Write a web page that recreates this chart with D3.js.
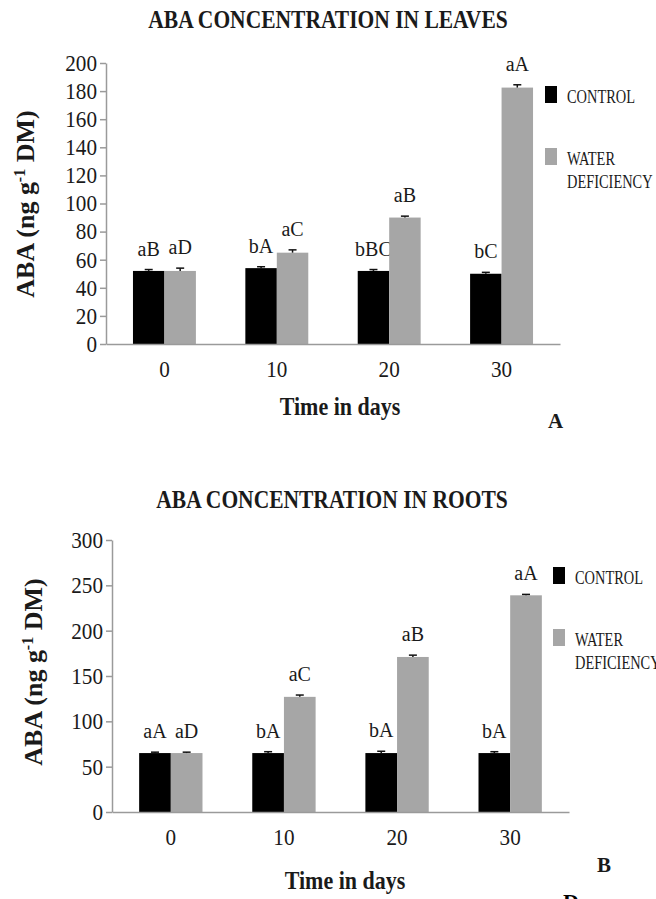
<!DOCTYPE html>
<html>
<head>
<meta charset="utf-8">
<script src="https://cdn.jsdelivr.net/npm/d3@7"></script>
<style>
	body { margin: 0; background: #fff; }
	svg { display: block; }
</style>
</head>
<body>
<div id="svg-container"></div>
<script>
var days = ["0", "10", "20", "30"];
var seriesNames = ["CONTROL", "WATER DEFICIENCY"];

var leafControl = [52, 54, 52, 50];
var leafControlErr = [1, 1, 1, 1];
var leafWater = [52, 65, 90, 182.5];
var leafWaterErr = [2, 2, 1, 2];
var leafControlLetters = ["aB", "bA", "bBC", "bC"];
var leafWaterLetters = ["aD", "aC", "aB", "aA"];
var leafTicks = [0, 20, 40, 60, 80, 100, 120, 140, 160, 180, 200];

var rootControl = [65, 65, 65, 65];
var rootControlErr = [1, 1.5, 2, 1.5];
var rootWater = [65, 127, 171, 239];
var rootWaterErr = [1, 2, 2, 1];
var rootControlLetters = ["aA", "bA", "bA", "bA"];
var rootWaterLetters = ["aD", "aC", "aB", "aA"];
var rootTicks = [0, 50, 100, 150, 200, 250, 300];

var colors = ["#000000", "#a6a6a6"];
var serif = "'Liberation Serif', 'Times New Roman', Times, serif";

var svg = d3.select("#svg-container").append("svg")
	.attr("width", 656)
	.attr("height", 899)
	.attr("font-family", serif)
	.style("font-family", serif);

// squeeze a text horizontally, the original figure uses a narrow face
function condense (sel, k) {
	sel.each(function () {
		var len = this.getComputedTextLength();
		d3.select(this)
			.attr("textLength", len * k)
			.attr("lengthAdjust", "spacingAndGlyphs");
	});
	return sel;
}

function drawPanel (p) {
	var g = svg.append("g")
		.style("font-family", serif)
		.attr("fill", "#1a1a1a");

	var x = d3.scaleBand()
		.domain(days)
		.range([p.left, p.right])
		.paddingInner(0.44)
		.paddingOuter(0.24);

	var x1 = d3.scaleBand()
		.domain([0, 1])
		.range([0, x.bandwidth()]);

	var y = d3.scaleLinear()
		.domain([0, p.ticks[p.ticks.length - 1]])
		.range([p.bottom, p.top]);

	var rows = days.map(function (d, i) {
		return {
			day: d,
			vals: [
				{ s: 0, v: p.control[i], e: p.controlErr[i], t: p.controlLetters[i] },
				{ s: 1, v: p.water[i], e: p.waterErr[i], t: p.waterLetters[i] }
			]
		};
	});

	var groups = g.selectAll(".grp")
		.data(rows)
		.enter()
		.append("g")
		.attr("class", "grp")
		.attr("transform", function (d) { return "translate(" + x(d.day) + ",0)"; });

	var cells = groups.selectAll(".cell")
		.data(function (d) { return d.vals; })
		.enter()
		.append("g")
		.attr("class", "cell");

	cells.append("rect")
		.attr("x", function (d) { return x1(d.s); })
		.attr("y", function (d) { return y(d.v); })
		.attr("width", x1.bandwidth())
		.attr("height", function (d) { return y(0) - y(d.v); })
		.attr("fill", function (d) { return colors[d.s]; });

	// error bars
	cells.append("line")
		.attr("x1", function (d) { return x1(d.s) + x1.bandwidth() / 2; })
		.attr("x2", function (d) { return x1(d.s) + x1.bandwidth() / 2; })
		.attr("y1", function (d) { return y(d.v); })
		.attr("y2", function (d) { return y(d.v + d.e); })
		.attr("stroke", "#111")
		.attr("stroke-width", 1.5);

	cells.append("line")
		.attr("x1", function (d) { return x1(d.s) + x1.bandwidth() / 2 - 4; })
		.attr("x2", function (d) { return x1(d.s) + x1.bandwidth() / 2 + 4; })
		.attr("y1", function (d) { return y(d.v + d.e); })
		.attr("y2", function (d) { return y(d.v + d.e); })
		.attr("stroke", "#111")
		.attr("stroke-width", 1.5);

	cells.append("text")
		.text(function (d) { return d.t; })
		.attr("text-anchor", "middle")
		.attr("x", function (d) { return x1(d.s) + x1.bandwidth() / 2; })
		.attr("y", function (d) { return y(d.v + d.e) - 14; })
		.style("font-size", "20px");

	// axes
	g.append("g")
		.attr("transform", "translate(" + p.left + ",0)")
		.call(d3.axisLeft(y).tickValues(p.ticks).tickSize(6).tickPadding(3).tickSizeOuter(0));

	g.append("g")
		.attr("transform", "translate(0," + p.bottom + ")")
		.call(d3.axisBottom(x).tickSize(0).tickPadding(17));

	g.selectAll(".domain, .tick line")
		.attr("stroke", "#9a9a9a")
		.attr("stroke-width", 1.5);

	condense(g.selectAll(".tick text")
		.attr("fill", "#1a1a1a")
		.attr("font-family", serif)
		.attr("font-size", 23)
		.style("font-family", serif)
		.style("font-size", "23px"), 0.92);

	// titles
	condense(g.append("text")
		.text(p.title)
		.attr("x", p.titleX)
		.attr("y", p.titleY)
		.attr("text-anchor", "middle")
		.style("font-size", "25px")
		.style("font-weight", "bold"), 0.86);

	condense(g.append("text")
		.text("Time in days")
		.attr("x", p.xLabelX)
		.attr("y", p.xLabelY)
		.attr("text-anchor", "middle")
		.style("font-size", "25px")
		.style("font-weight", "bold"), 0.88);

	var yl = g.append("text")
		.attr("transform", "translate(" + p.yLabelX + "," + p.yLabelY + ") rotate(-90)")
		.attr("text-anchor", "middle")
		.style("font-size", "26px")
		.style("font-weight", "bold");
	yl.append("tspan").text("ABA (ng g");
	yl.append("tspan").text("-1").attr("dy", -9).style("font-size", "16px");
	yl.append("tspan").text(" DM)").attr("dy", 9);

	g.append("text")
		.text(p.letter)
		.attr("x", p.letterX)
		.attr("y", p.letterY)
		.style("font-size", "21px")
		.style("font-weight", "bold");

	// legend
	var lg = g.append("g")
		.attr("transform", "translate(" + p.legX + "," + p.legY + ")");

	var items = lg.selectAll(".leg")
		.data(seriesNames)
		.enter()
		.append("g")
		.attr("class", "leg")
		.attr("transform", function (d, i) { return "translate(0," + (i * p.legGap) + ")"; });

	items.append("rect")
		.attr("width", 12)
		.attr("height", 17)
		.attr("fill", function (d, i) { return colors[i]; });

	items.each(function (d) {
		var words = d.split(" ");
		var t = d3.select(this).selectAll("text")
			.data(words)
			.enter()
			.append("text")
			.text(function (w) { return w; })
			.attr("x", 22)
			.attr("y", function (w, j) { return 17 + j * 22.5; })
			.style("font-size", "18px");
		condense(t, 0.8);
	});
}

drawPanel({
	title: "ABA CONCENTRATION IN LEAVES",
	titleX: 328, titleY: 28,
	left: 106, right: 560, top: 63, bottom: 344,
	ticks: leafTicks,
	control: leafControl, controlErr: leafControlErr, controlLetters: leafControlLetters,
	water: leafWater, waterErr: leafWaterErr, waterLetters: leafWaterLetters,
	xLabelX: 340, xLabelY: 415,
	yLabelX: 34, yLabelY: 204,
	letter: "A", letterX: 548, letterY: 428,
	legX: 545, legY: 86, legGap: 62
});

drawPanel({
	title: "ABA CONCENTRATION IN ROOTS",
	titleX: 332, titleY: 508,
	left: 112, right: 569, top: 540, bottom: 812,
	ticks: rootTicks,
	control: rootControl, controlErr: rootControlErr, controlLetters: rootControlLetters,
	water: rootWater, waterErr: rootWaterErr, waterLetters: rootWaterLetters,
	xLabelX: 345, xLabelY: 889,
	yLabelX: 42, yLabelY: 672,
	letter: "B", letterX: 597, letterY: 872,
	legX: 553, legY: 567, legGap: 62
});

// edge of the next panel label, cut by the page
svg.append("text")
	.text("D")
	.attr("x", 563)
	.attr("y", 909)
	.style("font-size", "22px")
	.style("font-weight", "bold");
</script>
</body>
</html>
